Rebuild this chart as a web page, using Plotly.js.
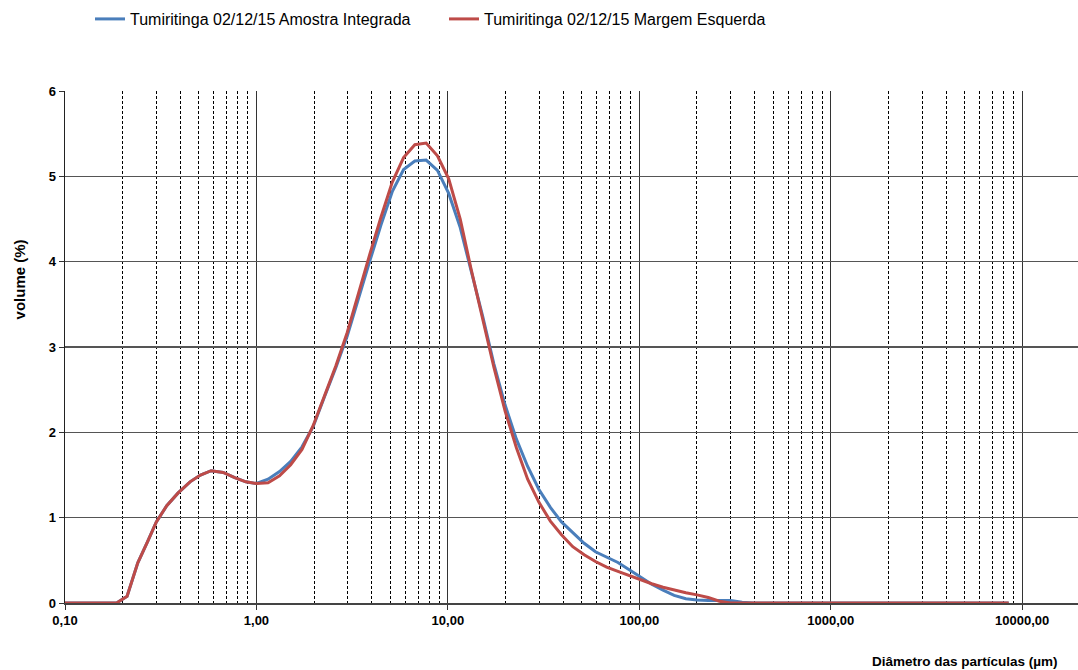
<!DOCTYPE html>
<html>
<head>
<meta charset="utf-8">
<script src="https://cdn.plot.ly/plotly-3.0.1.min.js"></script>
<style>
html,body{margin:0;padding:0;background:#fff;}
#chart{width:1078px;height:670px;}
</style>
</head>
<body>
<div id="chart"></div>
<script>
// Particle diameter (µm)
const diameters = [0.1, 0.12, 0.15, 0.186, 0.211, 0.24, 0.27, 0.30, 0.34, 0.39, 0.45, 0.51, 0.58, 0.67, 0.77, 0.88,
  1.0, 1.15, 1.32, 1.51, 1.73, 1.98, 2.27, 2.6, 2.98, 3.41, 3.9, 4.47, 5.12, 5.87, 6.72, 7.7, 8.82,
  10.1, 11.6, 13.2, 15.2, 17.4, 19.9, 22.8, 26.1, 29.9, 34.3, 39.2, 44.9, 51.5, 59, 67.5, 77.3, 88.6,
  101, 116, 133, 152, 175, 200, 229, 262, 300, 344, 394, 452, 600, 1000, 2000, 5000, 8500];

// Tumiritinga 02/12/15 Amostra Integrada (volume %)
const amostraIntegrada = [0, 0, 0, 0, 0.08, 0.47, 0.72, 0.95, 1.14, 1.29, 1.42, 1.50, 1.55, 1.53, 1.47, 1.42,
  1.40, 1.45, 1.54, 1.66, 1.83, 2.07, 2.42, 2.76, 3.13, 3.58, 4.00, 4.43, 4.82, 5.08, 5.18, 5.19, 5.07,
  4.80, 4.40, 3.90, 3.36, 2.80, 2.32, 1.92, 1.60, 1.33, 1.12, 0.95, 0.82, 0.70, 0.60, 0.54, 0.475, 0.39,
  0.305, 0.22, 0.15, 0.09, 0.05, 0.035, 0.03, 0.03, 0.03, 0.01, 0, 0, 0, 0, 0, 0, 0];

// Tumiritinga 02/12/15 Margem Esquerda (volume %)
const margemEsquerda = [0, 0, 0, 0, 0.08, 0.47, 0.72, 0.95, 1.14, 1.29, 1.42, 1.50, 1.55, 1.53, 1.47, 1.42,
  1.40, 1.41, 1.49, 1.62, 1.80, 2.08, 2.43, 2.78, 3.17, 3.63, 4.08, 4.52, 4.93, 5.22, 5.37, 5.39, 5.24,
  4.97, 4.50, 3.92, 3.33, 2.76, 2.25, 1.82, 1.45, 1.18, 0.96, 0.80, 0.66, 0.565, 0.486, 0.42, 0.37, 0.32,
  0.27, 0.226, 0.185, 0.15, 0.12, 0.095, 0.065, 0.02, 0, 0, 0, 0, 0, 0, 0, 0, 0];

const seriesNames = ['Tumiritinga 02/12/15 Amostra Integrada', 'Tumiritinga 02/12/15 Margem Esquerda'];
const majorTicks = [0.1, 1, 10, 100, 1000, 10000];
const majorTickText = ['0,10', '1,00', '10,00', '100,00', '1000,00', '10000,00'];
const yTicks = [0, 1, 2, 3, 4, 5, 6];

const minorTicks = [];
[0.1, 1, 10, 100, 1000].forEach(d => { for (let k = 2; k <= 9; k++) minorTicks.push(+(k * d).toPrecision(3)); });

const data = [
  {x: diameters, y: amostraIntegrada, name: seriesNames[0], type: 'scatter', mode: 'lines',
   line: {color: '#4A7EBB', width: 3}},
  {x: diameters, y: margemEsquerda, name: seriesNames[1], type: 'scatter', mode: 'lines',
   line: {color: '#BE4B48', width: 3}}
];

const tickFont = {family: 'Liberation Sans, Arial, sans-serif', size: 13, color: '#000', weight: 'bold'};

const layout = {
  width: 1078, height: 670,
  margin: {l: 65, r: 0, t: 91, b: 67, pad: 0},
  paper_bgcolor: '#fff', plot_bgcolor: '#fff',
  showlegend: true,
  legend: {
    orientation: 'h', x: 0.0247, xanchor: 'left', y: 1.1406, yanchor: 'middle',
    font: {family: 'Liberation Sans, Arial, sans-serif', size: 16, color: '#000'},
    entrywidth: 309, entrywidthmode: 'pixels', bgcolor: 'rgba(0,0,0,0)', borderwidth: 0
  },
  xaxis: {
    type: 'log', range: [-1, 4.2914], autorange: false,
    tickmode: 'array', tickvals: majorTicks, ticktext: majorTickText,
    tickfont: tickFont, ticks: 'outside', ticklen: 5, tickcolor: '#333',
    showgrid: true, gridcolor: '#333', gridwidth: 1,
    showline: true, linecolor: '#444', linewidth: 1.5,
    zeroline: false,
    minor: {tickmode: 'array', tickvals: minorTicks, showgrid: true, gridcolor: '#000',
            gridwidth: 1, griddash: '3px,2px', ticks: ''}
  },
  yaxis: {
    range: [0, 6], autorange: false,
    tickmode: 'array', tickvals: yTicks,
    tickfont: tickFont, ticks: 'outside', ticklen: 5, tickcolor: '#333',
    showgrid: true, gridcolor: '#555', gridwidth: 1.4,
    showline: true, linecolor: '#222', linewidth: 1.5,
    zeroline: false
  },
  annotations: [
    {text: 'Diâmetro das partículas (µm)', xref: 'paper', yref: 'paper', x: 0.982, y: -0.115,
     xanchor: 'right', yanchor: 'middle', showarrow: false,
     font: {family: 'Liberation Sans, Arial, sans-serif', size: 13.5, color: '#000', weight: 'bold'}},
    {text: 'volume (%)', xref: 'paper', yref: 'paper', x: -0.0454, y: 0.632,
     xanchor: 'center', yanchor: 'middle', showarrow: false, textangle: -90,
     font: {family: 'Liberation Sans, Arial, sans-serif', size: 15, color: '#000', weight: 'bold'}}
  ]
};

Plotly.newPlot('chart', data, layout, {displayModeBar: false, staticPlot: true});
</script>
</body>
</html>
